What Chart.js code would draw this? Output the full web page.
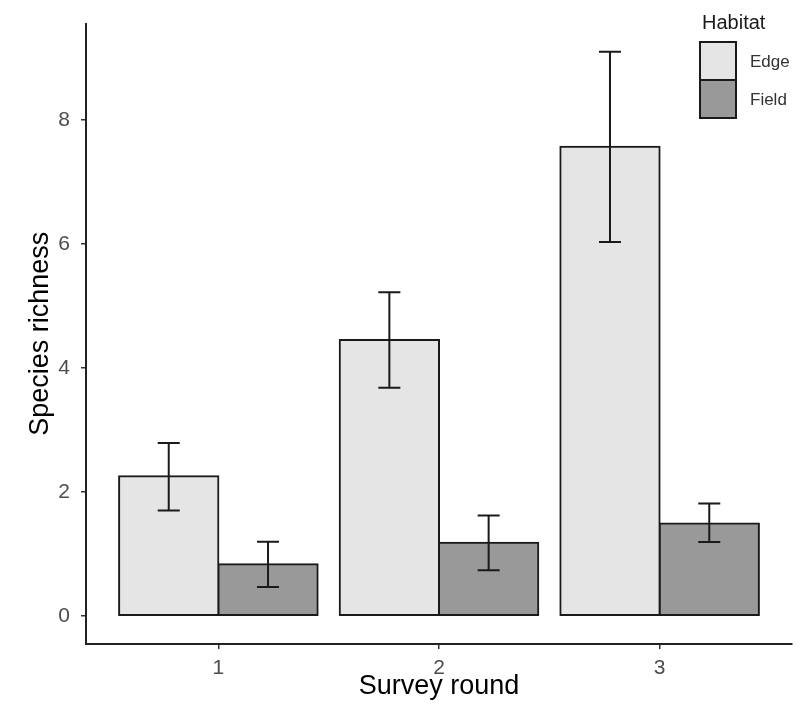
<!DOCTYPE html>
<html>
<head>
<meta charset="utf-8">
<title>Species richness by survey round</title>
<script src="https://cdn.jsdelivr.net/npm/chart.js@4.4.1/dist/chart.umd.min.js"></script>
<style>
    html, body { margin: 0; padding: 0; background: #fff; }
    #wrap { width: 805px; height: 715px; }
</style>
</head>
<body>
<div id="wrap"><canvas id="chart" width="805" height="715"></canvas></div>
<script>
// Survey rounds (x positions) and their labels
const rounds = [1, 2, 3];
const roundLabels = ['1', '2', '3'];

// Mean species richness per habitat, with error bar limits
const edgeMeans = [2.25, 4.45, 7.57];
const edgeLower = [1.70, 3.68, 6.03];
const edgeUpper = [2.79, 5.22, 9.10];

const fieldMeans = [0.83, 1.18, 1.49];
const fieldLower = [0.465, 0.735, 1.19];
const fieldUpper = [1.195, 1.62, 1.81];

const yTicks = [0, 2, 4, 6, 8];

const FONT = "'Liberation Sans', Arial, Helvetica, sans-serif";
const INK = '#1a1a1a';

// ggplot-like 5% expansion of the y range
const yTop = Math.max(...edgeUpper, ...fieldUpper);
const yPad = yTop * 0.05;

const errorBars = {
    edge: { lower: edgeLower, upper: edgeUpper },
    field: { lower: fieldLower, upper: fieldUpper }
};

// Draws the error bars on top of each bar
const errorBarPlugin = {
    id: 'errorBars',
    afterDatasetsDraw(chart) {
        const ctx = chart.ctx;
        const yScale = chart.scales.y;
        ctx.save();
        ctx.strokeStyle = INK;
        ctx.lineWidth = 2;
        chart.data.datasets.forEach((ds, i) => {
            const meta = chart.getDatasetMeta(i);
            const eb = errorBars[ds.key];
            meta.data.forEach((bar, j) => {
                const x = bar.x;
                const yHi = yScale.getPixelForValue(eb.upper[j]);
                const yLo = yScale.getPixelForValue(eb.lower[j]);
                ctx.beginPath();
                ctx.moveTo(x, yHi);
                ctx.lineTo(x, yLo);
                ctx.moveTo(x - 11, yHi);
                ctx.lineTo(x + 11, yHi);
                ctx.moveTo(x - 11, yLo);
                ctx.lineTo(x + 11, yLo);
                ctx.stroke();
            });
        });
        ctx.restore();
    }
};

// ggplot-style legend in the top right corner
const legendPlugin = {
    id: 'habitatLegend',
    afterDraw(chart) {
        const ctx = chart.ctx;
        ctx.save();
        ctx.fillStyle = INK;
        ctx.font = '20px ' + FONT;
        ctx.textBaseline = 'middle';
        ctx.textAlign = 'left';
        ctx.fillText('Habitat', 702, 23);

        const boxX = 700, boxW = 36, boxH = 38;
        let boxY = 42;
        chart.data.datasets.forEach(ds => {
            ctx.fillStyle = ds.backgroundColor;
            ctx.fillRect(boxX, boxY, boxW, boxH);
            ctx.strokeStyle = INK;
            ctx.lineWidth = 2;
            ctx.strokeRect(boxX, boxY, boxW, boxH);
            ctx.fillStyle = '#333';
            ctx.font = '17px ' + FONT;
            ctx.fillText(ds.label, 750, boxY + boxH / 2 + 1);
            boxY += boxH;
        });
        ctx.restore();
    }
};

const barStyle = {
    borderColor: INK,
    borderWidth: 2,
    borderSkipped: false,
    inflateAmount: 1,
    categoryPercentage: 0.9,
    barPercentage: 1.0
};

new Chart(document.getElementById('chart'), {
    type: 'bar',
    data: {
        datasets: [
            Object.assign({
                key: 'edge',
                label: 'Edge',
                data: rounds.map((r, i) => ({ x: r, y: edgeMeans[i] })),
                backgroundColor: '#e5e5e5'
            }, barStyle),
            Object.assign({
                key: 'field',
                label: 'Field',
                data: rounds.map((r, i) => ({ x: r, y: fieldMeans[i] })),
                backgroundColor: '#999999'
            }, barStyle)
        ]
    },
    options: {
        responsive: false,
        animation: false,
        layout: { padding: { top: 13, right: 13, left: 0, bottom: 0 } },
        plugins: {
            legend: { display: false },
            tooltip: { enabled: false }
        },
        scales: {
            x: {
                type: 'linear',
                min: 0.4,
                max: 3.6,
                offset: false,
                afterBuildTicks: scale => {
                    scale.ticks = rounds.map(v => ({ value: v }));
                },
                afterFit: scale => { scale.height = 71; },
                grid: { offset: false, drawOnChartArea: false, drawTicks: true, tickLength: 5, color: '#333', lineWidth: 1.5 },
                border: { display: true, color: '#222', width: 2 },
                ticks: {
                    padding: 7,
                    color: '#4d4d4d',
                    font: { family: FONT, size: 21 },
                    callback: v => roundLabels[rounds.indexOf(v)]
                },
                title: {
                    display: true,
                    text: 'Survey round',
                    color: '#000',
                    font: { family: FONT, size: 27 },
                    padding: { top: 0, bottom: 12 }
                }
            },
            y: {
                min: -yPad,
                max: yTop + yPad,
                afterBuildTicks: scale => {
                    scale.ticks = yTicks.map(v => ({ value: v }));
                },
                afterFit: scale => { scale.width = 86; },
                grid: { drawOnChartArea: false, drawTicks: true, tickLength: 5, color: '#333', lineWidth: 1.5 },
                border: { display: true, color: '#222', width: 2 },
                ticks: {
                    padding: 11,
                    color: '#4d4d4d',
                    font: { family: FONT, size: 21 }
                },
                title: {
                    display: true,
                    text: 'Species richness',
                    color: '#000',
                    font: { family: FONT, size: 27 },
                    padding: { top: 24, bottom: 0 }
                }
            }
        }
    },
    plugins: [errorBarPlugin, legendPlugin]
});
</script>
</body>
</html>
